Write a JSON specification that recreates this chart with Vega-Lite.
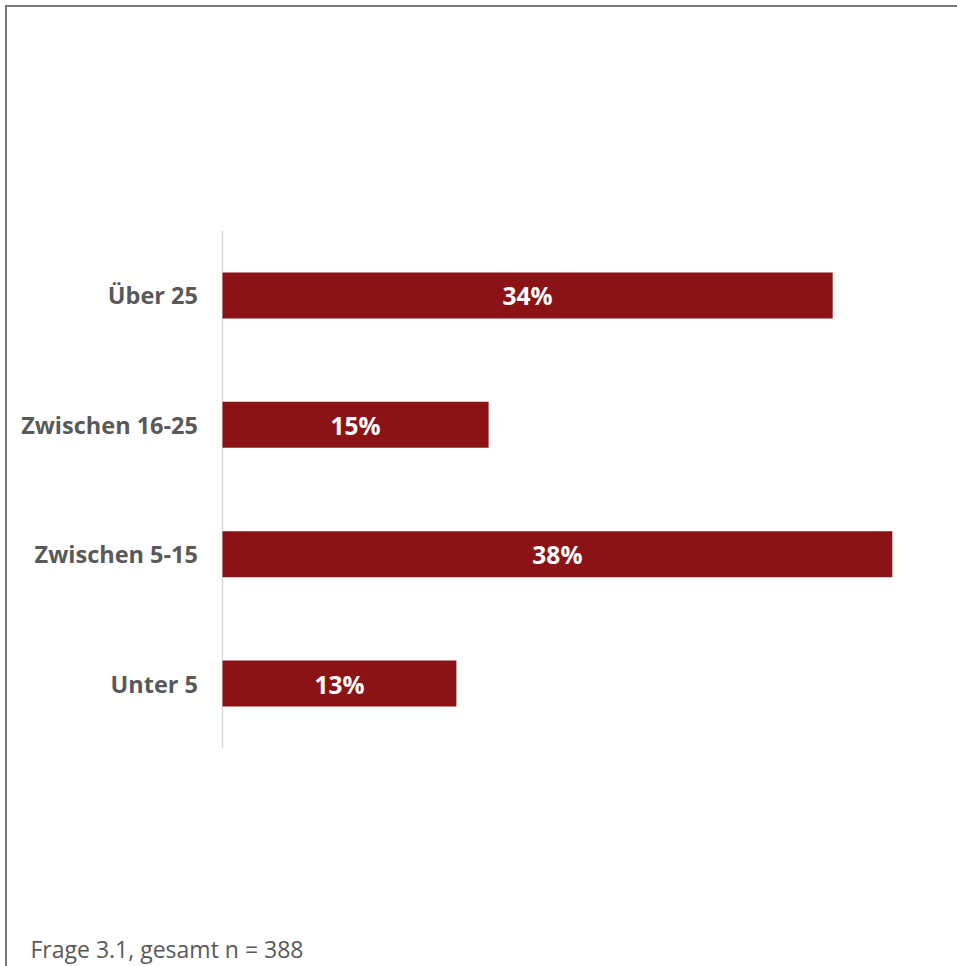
{
  "$schema": "https://vega.github.io/schema/vega-lite/v6.json",
  "width": 955,
  "height": 967,
  "autosize": {"type": "none"},
  "padding": {"left": 6, "top": 6, "right": -4, "bottom": -7},
  "background": "white",
  "config": {"view": {"stroke": "#7a7a7a", "strokeWidth": 2}, "font": "Open Sans"},
  "data": {"values": [
    {"group": "Über 25", "share": 0.3428},
    {"group": "Zwischen 16-25", "share": 0.1495},
    {"group": "Zwischen 5-15", "share": 0.3763},
    {"group": "Unter 5", "share": 0.1314}
  ]},
  "layer": [
    {
      "mark": {"type": "rule", "color": "#d9d9d9", "strokeWidth": 1.5},
      "encoding": {
        "x": {"datum": 0, "type": "quantitative", "scale": {"domain": [-0.121629, 0.414888], "nice": false, "zero": false}, "axis": null},
        "y": {"field": "group", "type": "nominal", "sort": null, "bandPosition": 0, "scale": {"type": "band", "range": [224.7, 742.3], "paddingInner": 0, "paddingOuter": 0}, "axis": null},
        "y2": {"field": "group", "bandPosition": 1}
      }
    },
    {
      "mark": {"type": "bar", "color": "#8b1316"},
      "encoding": {
        "x": {"field": "share", "type": "quantitative", "scale": {"domain": [-0.121629, 0.414888], "nice": false, "zero": false},
          "axis": {"orient": "bottom", "domain": false, "ticks": false, "labels": false, "grid": false,
            "title": "Frage 3.1, gesamt n = 388", "titleX": 24, "titleY": -16, "titleAlign": "left", "titleAnchor": "start",
            "titleBaseline": "alphabetic", "titleFont": "Open Sans", "titleFontSize": 23, "titleFontWeight": "normal", "titleColor": "#595959"}},
        "y": {"field": "group", "type": "nominal", "sort": null, "scale": {"type": "band", "range": [224.7, 742.3], "paddingInner": 0.6445, "paddingOuter": 0.3222},
          "axis": {"orient": "left", "offset": -216.5, "domain": false, "ticks": false, "labelPadding": 25, "labelOffset": 2,
            "labelFont": "Open Sans", "labelFontSize": 23.5, "labelFontWeight": "bold", "labelColor": "#595959", "title": null}}
      }
    },
    {
      "mark": {"type": "text", "color": "white", "font": "Open Sans", "fontSize": 24.5, "fontWeight": "bold", "align": "center", "baseline": "middle", "dy": 3},
      "encoding": {
        "x": {"field": "share", "type": "quantitative", "scale": {"domain": [-0.243258, 0.829775], "nice": false, "zero": false}, "axis": null},
        "y": {"field": "group", "type": "nominal", "sort": null, "bandPosition": 0.5, "scale": {"type": "band", "range": [224.7, 742.3], "paddingInner": 0.6445, "paddingOuter": 0.3222}, "axis": null},
        "text": {"field": "share", "type": "quantitative", "format": ".0%"}
      }
    }
  ],
  "resolve": {"scale": {"x": "independent", "y": "independent"}}
}
